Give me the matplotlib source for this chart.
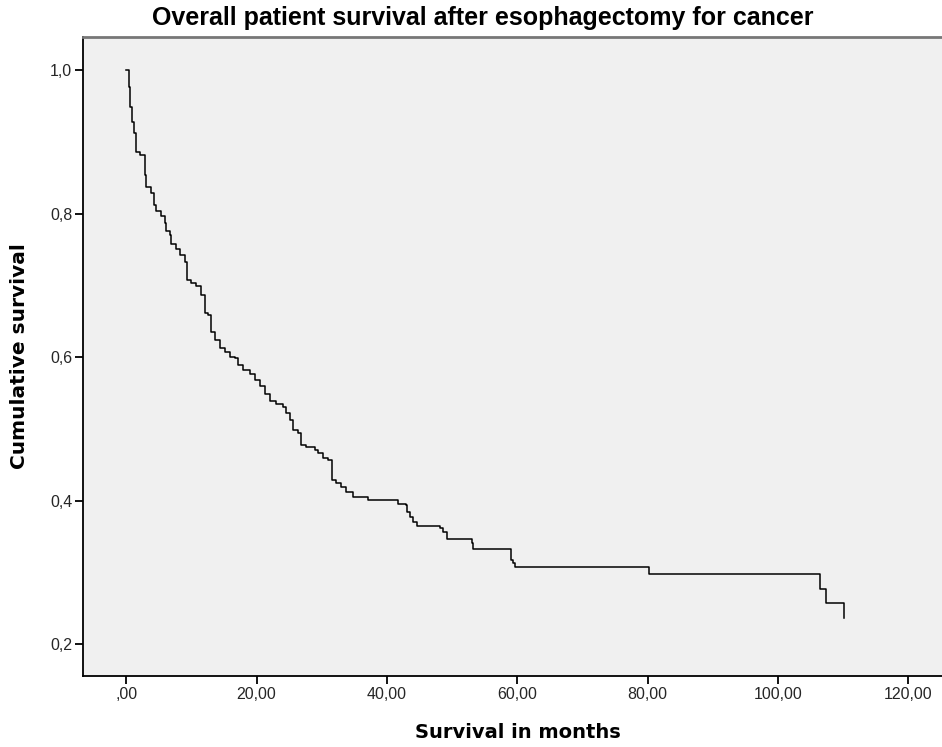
import numpy as np
import matplotlib
matplotlib.use('Agg')
import matplotlib.pyplot as plt

# Kaplan-Meier estimate: event times (months) and survival after each step
months = [0.0, 0.40, 0.61, 0.86, 1.12, 1.54, 2.04, 2.81, 3.07, 3.84, 4.19,
          4.61, 5.38, 5.88, 6.14, 6.65, 6.91, 7.68, 8.19, 8.96, 9.34, 9.98,
          10.75, 11.52, 12.03, 12.53, 12.95, 13.56, 14.33, 15.10, 15.87, 16.64,
          17.14, 17.91, 18.94, 19.71, 20.48, 21.24, 22.01, 23.04, 24.06, 24.58,
          25.08, 25.59, 26.36, 26.88, 27.65, 28.92, 29.43, 30.20, 30.97, 31.64,
          32.26, 33.03, 33.79, 34.81, 37.11, 41.67, 42.90, 43.06, 43.52, 43.98,
          44.59, 48.13, 48.59, 49.20, 53.04, 53.19, 59.03, 59.34, 59.65, 80.23,
          106.5, 107.4, 110.1]
survival = [1.000, 0.977, 0.949, 0.928, 0.912, 0.886, 0.882, 0.854, 0.837, 0.829,
            0.812, 0.803, 0.796, 0.787, 0.775, 0.770, 0.758, 0.751, 0.742, 0.733,
            0.707, 0.703, 0.699, 0.686, 0.661, 0.659, 0.635, 0.624, 0.612, 0.607,
            0.600, 0.598, 0.589, 0.582, 0.577, 0.568, 0.559, 0.549, 0.538, 0.535,
            0.531, 0.522, 0.512, 0.498, 0.494, 0.477, 0.474, 0.470, 0.466, 0.459,
            0.456, 0.429, 0.424, 0.419, 0.412, 0.405, 0.401, 0.395, 0.394, 0.384,
            0.377, 0.370, 0.364, 0.362, 0.356, 0.346, 0.341, 0.332, 0.317, 0.313,
            0.307, 0.298, 0.277, 0.257, 0.236]

x_ticks = [0, 20, 40, 60, 80, 100, 120]
x_labels = [',00', '20,00', '40,00', '60,00', '80,00', '100,00', '120,00']
y_ticks = [0.2, 0.4, 0.6, 0.8, 1.0]
y_labels = ['0,2', '0,4', '0,6', '0,8', '1,0']

plt.rcParams['font.family'] = ['Liberation Sans', 'DejaVu Sans']

fig = plt.figure(figsize=(9.42, 7.47), dpi=100)
ax = fig.add_axes([83.3 / 942, 1 - 676 / 747, 1 - 83.3 / 942, (676 - 37) / 747])
ax.set_facecolor('#f0f0f0')

ax.step(months, survival, where='post', color='black', linewidth=1.1)

ax.set_xlim(-6.6, 125.2)
ax.set_ylim(0.1554, 1.046)

ax.set_xticks(x_ticks)
ax.set_xticklabels(x_labels)
ax.set_yticks(y_ticks)
ax.set_yticklabels(y_labels)
ax.tick_params(direction='out', length=6, width=1.3, colors='black',
               labelsize=11.5, labelcolor='#262626', pad=2)

for side in ['left', 'bottom']:
    ax.spines[side].set_color('black')
    ax.spines[side].set_linewidth(1.3)
ax.spines['top'].set_color('#777777')
ax.spines['top'].set_linewidth(2)
ax.spines['right'].set_visible(False)

fig.text(483 / 942, 1 - 18 / 747, 'Overall patient survival after esophagectomy for cancer',
         ha='center', va='center', fontsize=18, fontweight='bold', color='black')
fig.text(518 / 942, 1 - 733 / 747, 'Survival in months', family='DejaVu Sans',
         ha='center', va='center', fontsize=14, fontweight='bold', color='black')
fig.text(20 / 942, 1 - 356 / 747, 'Cumulative survival', rotation=90, family='DejaVu Sans',
         ha='center', va='center', fontsize=14.5, fontweight='bold', color='black')

plt.savefig('out.png', dpi=100)
